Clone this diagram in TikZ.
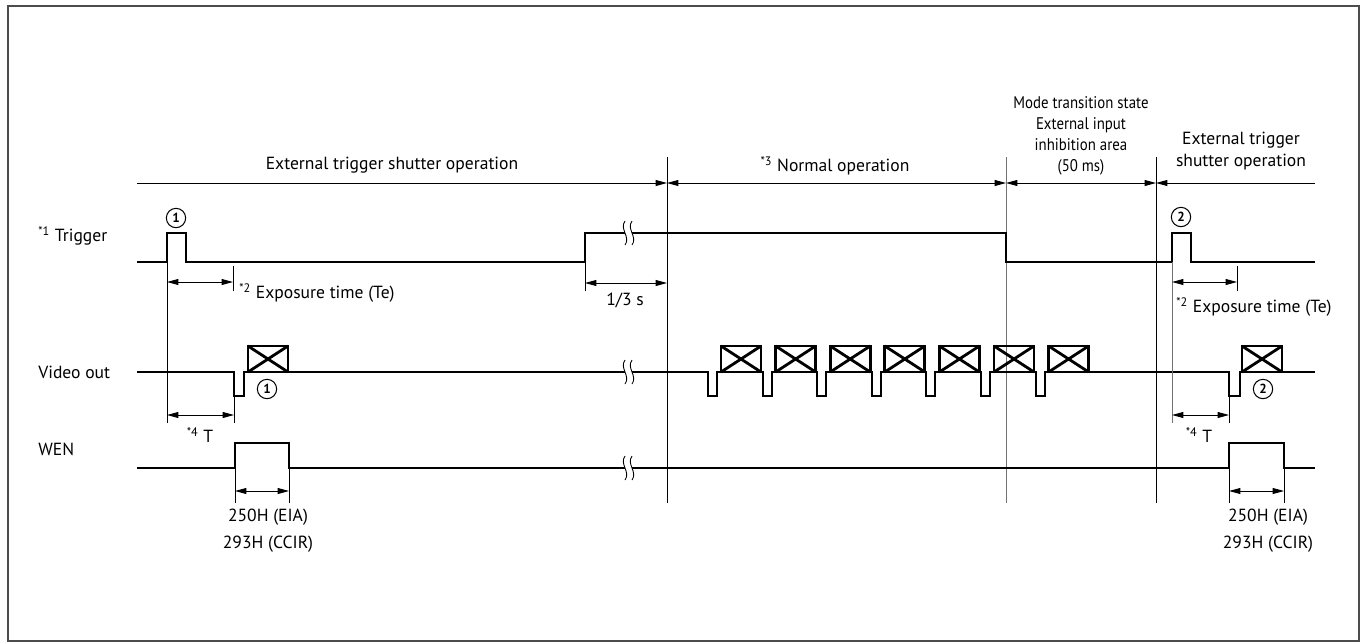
\documentclass[tikz,border=0pt]{standalone}
\usepackage{fontspec}
\setmainfont{PT Sans}
\newfontfamily\narrowfont[FakeStretch=0.88]{PT Sans}
\usetikzlibrary{arrows.meta}

\newcommand{\crossbox}[1]{%
  \draw[boxline] (#1,346) rectangle ++(40,26);
  \draw[boxline] (#1,346) -- ++(40,26) (#1,372) -- ++(40,-26);}
\newcommand{\brk}[2]{%
  \fill[white] (#1,#2-3) rectangle (#1+7,#2+3);
  \draw[thin] (#1,#2-12) .. controls (#1-6,#2-4) and (#1+6,#2+4) .. (#1,#2+12);
  \draw[thin] (#1+7,#2-12) .. controls (#1+1,#2-4) and (#1+13,#2+4) .. (#1+7,#2+12);}

\begin{document}
\begin{tikzpicture}[x=0.02cm, y=-0.02cm,
    sig/.style={line width=1.1pt},
    thin/.style={line width=0.5pt},
    boxline/.style={line width=1.6pt},
    dimarr/.style={line width=0.5pt, {Triangle[length=6.5pt,width=3.4pt]}-{Triangle[length=6.5pt,width=3.4pt]}},
    lbl/.style={inner sep=0pt, font=\fontsize{10}{12}\selectfont},
    num/.style={circle, draw, line width=0.6pt, inner sep=0.4pt, minimum size=11pt, font=\bfseries\fontsize{7.5}{8}\selectfont}]

    \useasboundingbox (0,0) rectangle (1365,643);
    \draw[black!70, line width=1pt] (8,6) rectangle (1359,641);

    % phases
    \draw[thin, -{Triangle[length=6.5pt,width=3.4pt]}] (137,183) -- (667,183);
    \draw[dimarr] (667,183) -- (1006,183);
    \draw[dimarr] (1006,183) -- (1156,183);
    \draw[thin, {Triangle[length=6.5pt,width=3.4pt]}-] (1156,183) -- (1315,183);
    \draw[thin] (667,157) -- (667,503);
    \draw[thin, black!55] (1006,157) -- (1006,503);
    \draw[thin] (1156,157) -- (1156,503);

    \node[lbl] (ext1) at (392,165) {External trigger shutter operation};
    \node[lbl] (norm) at (835,166) {\textsuperscript{*3} Normal operation};
    \node[lbl, align=center, font=\narrowfont\fontsize{9.6}{11.9}\selectfont] (inhib) at (1081,136)
        {Mode transition state\\External input\\inhibition area\\(50 ms)};
    \node[lbl, align=center, font=\fontsize{10}{13}\selectfont] (ext2) at (1241,151) {External trigger\\shutter operation};

    % signals
    \node[lbl, anchor=west] (trig) at (38,236) {\textsuperscript{*1} Trigger};
    \node[lbl, anchor=west] (video) at (38,372) {Video out};
    \node[lbl, anchor=west] (wen) at (38,449) {WEN};

    \draw[sig] (137,262) -- (167,262) -- (167,233) -- (186,233) -- (186,262) -- (585,262) -- (585,233)
        -- (1006,233) -- (1006,262) -- (1172,262) -- (1172,233) -- (1191,233) -- (1191,262) -- (1315,262);
    \draw[sig] (137,372) -- (234,372) -- (234,396) -- (244,396) -- (244,372)
        foreach \i in {0,...,6} { -- ({708+54.6*\i},372) -- ({708+54.6*\i},396) -- ({717+54.6*\i},396) -- ({717+54.6*\i},372) }
        -- (1229,372) -- (1229,396) -- (1240,396) -- (1240,372) -- (1315,372);
    \draw[sig] (137,468) -- (235,468) -- (235,443) -- (289,443) -- (289,468) -- (1229,468) -- (1229,443)
        -- (1284,443) -- (1284,468) -- (1315,468);

    \crossbox{248}
    \foreach \i in {0,...,6} {\crossbox{721+54.6*\i}}
    \crossbox{1242}

    \brk{625}{233}
    \brk{625}{372}
    \brk{625}{468}

    \node[num] (n1a) at (176,218) {1};
    \node[num] (n1b) at (267,389) {1};
    \node[num] (n2a) at (1181,217) {2};
    \node[num] (n2b) at (1263,389) {2};

    % timings
    \draw[thin] (167,262) -- (167,423) (233,266) -- (233,291) (234,396) -- (234,423);
    \draw[thin] (585,262) -- (585,291);
    \draw[thin] (235,468) -- (235,503) (289,468) -- (289,503);
    \draw[thin, black!55] (1172,262) -- (1172,423);
    \draw[thin] (1237,266) -- (1237,291) (1229,396) -- (1229,423);
    \draw[thin] (1229,468) -- (1229,503) (1284,468) -- (1284,503);

    \draw[dimarr] (167,282) -- (233,282);
    \draw[dimarr] (585,283) -- (667,283);
    \draw[dimarr] (167,415) -- (234,415);
    \draw[dimarr] (235,491) -- (289,491);
    \draw[dimarr] (1172,282) -- (1237,282);
    \draw[dimarr] (1172,415) -- (1229,415);
    \draw[dimarr] (1229,491) -- (1284,491);

    \node[lbl, anchor=west] (exp1) at (239,293) {\textsuperscript{*2} Exposure time (Te)};
    \node[lbl, anchor=west] (exp2) at (1176,307) {\textsuperscript{*2} Exposure time (Te)};
    \node[lbl] (third) at (625,300) {1/3 s};
    \node[lbl] (t1) at (200,435) {\textsuperscript{*4} T};
    \node[lbl] (t2) at (1199,435) {\textsuperscript{*4} T};
    \node[lbl, align=center, font=\fontsize{10}{15.3}\selectfont] (h1) at (268,531) {250H (EIA)\\293H (CCIR)};
    \node[lbl, align=center, font=\fontsize{10}{15.3}\selectfont] (h2) at (1268,531) {250H (EIA)\\293H (CCIR)};
\end{tikzpicture}
\end{document}
